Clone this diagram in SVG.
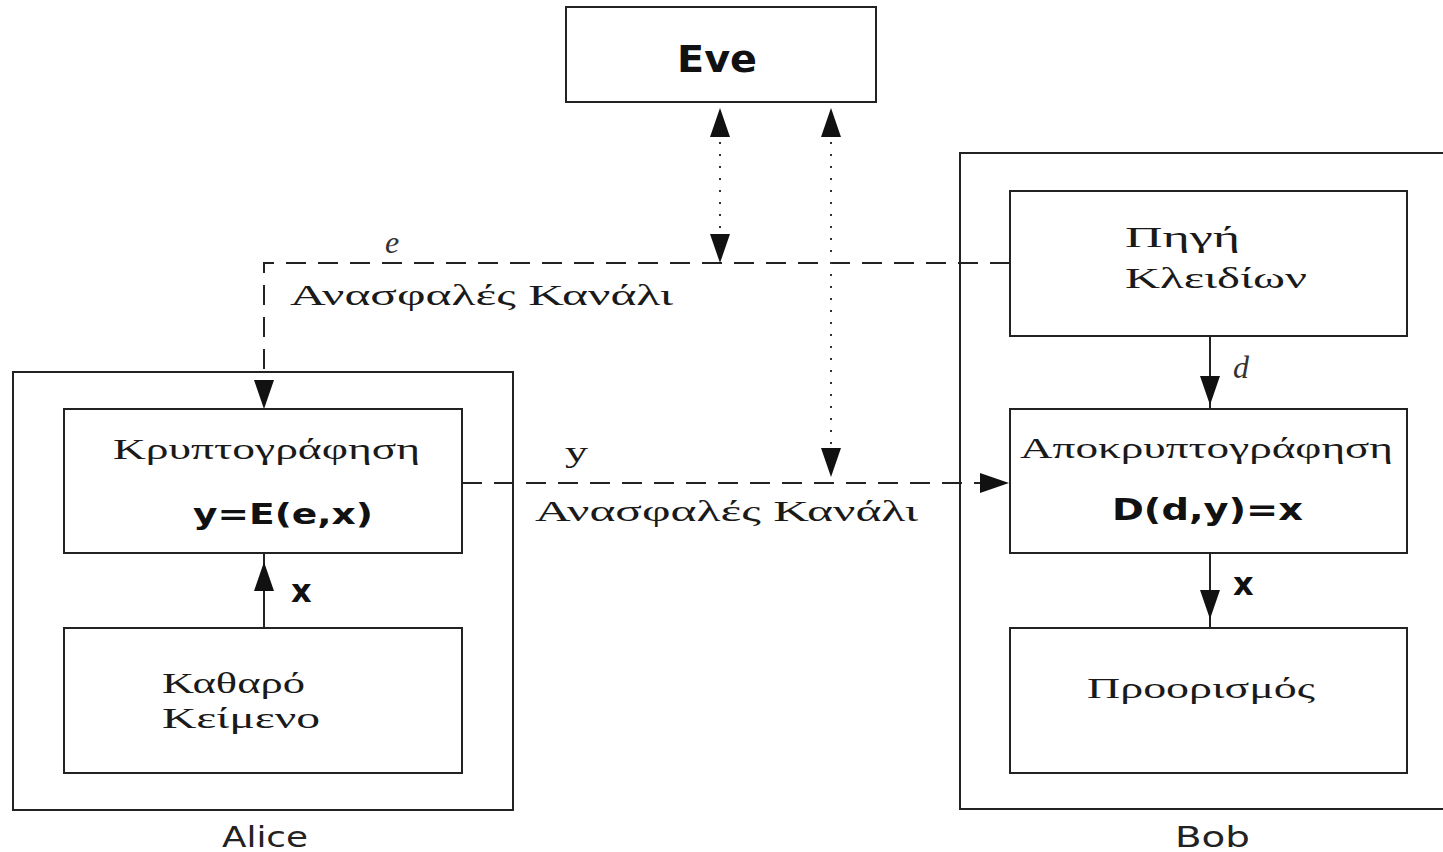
<svg xmlns="http://www.w3.org/2000/svg" xmlns:xlink="http://www.w3.org/1999/xlink" width="1443" height="852" viewBox="0 0 1443 852">
  <style>
    .box { fill: none; stroke: #222; stroke-width: 2; }
    .solid { fill: none; stroke: #222; stroke-width: 2; }
    .dash { fill: none; stroke: #222; stroke-width: 2; stroke-dasharray: 20 12; }
    .dot { fill: none; stroke: #333; stroke-width: 2; stroke-dasharray: 2 10; }
    .head { fill: #111; }
    .gr { font-family: "Liberation Serif", "DejaVu Serif", serif; font-size: 29px; fill: #1a1a1a; }
    .math { font-family: "Liberation Serif", "DejaVu Serif", serif; font-style: italic; font-size: 32px; fill: #333; }
    .bold { font-family: "DejaVu Sans", "Liberation Sans", sans-serif; font-weight: bold; fill: #111; }
    .name { font-family: "DejaVu Sans", "Liberation Sans", sans-serif; font-size: 29px; fill: #222; }
  </style>
  <defs>
    <!-- filled arrowhead, tip at the origin, pointing down -->
    <path id="ah" class="head" d="M0,0 L-10,-29 L10,-29 Z"/>
  </defs>

  <rect width="1443" height="852" fill="#fff"/>

  <!-- party frames -->
  <g id="alice">
    <rect class="box" x="13" y="372" width="500" height="438"/>
    <text class="name" x="222" y="847" textLength="86" lengthAdjust="spacingAndGlyphs">Alice</text>
  </g>
  <g id="bob">
    <path class="box" d="M1445,153 H960 V809 H1445"/>
    <text class="name" x="1175" y="847" textLength="75" lengthAdjust="spacingAndGlyphs">Bob</text>
  </g>

  <g id="eve">
    <rect class="box" x="566" y="7" width="310" height="95"/>
    <text class="bold" x="677" y="72" font-size="38" textLength="80" lengthAdjust="spacingAndGlyphs">Eve</text>
  </g>

  <g id="encrypt">
    <rect class="box" x="64" y="409" width="398" height="144"/>
    <text class="gr" x="113" y="459" textLength="307" lengthAdjust="spacingAndGlyphs">Κρυπτογράφηση</text>
    <text class="bold" x="193" y="524" font-size="28" textLength="180" lengthAdjust="spacingAndGlyphs">y=E(e,x)</text>
  </g>

  <g id="plaintext">
    <rect class="box" x="64" y="628" width="398" height="145"/>
    <text class="gr" x="162" y="693" textLength="143" lengthAdjust="spacingAndGlyphs">Καθαρό</text>
    <text class="gr" x="162" y="728" textLength="158" lengthAdjust="spacingAndGlyphs">Κείμενο</text>
  </g>

  <g id="keysource">
    <rect class="box" x="1010" y="191" width="397" height="145"/>
    <text class="gr" x="1125" y="247" textLength="115" lengthAdjust="spacingAndGlyphs">Πηγή</text>
    <text class="gr" x="1125" y="288" textLength="182" lengthAdjust="spacingAndGlyphs">Κλειδίων</text>
  </g>

  <g id="decrypt">
    <rect class="box" x="1010" y="409" width="397" height="144"/>
    <text class="gr" x="1020" y="458" textLength="373" lengthAdjust="spacingAndGlyphs">Αποκρυπτογράφηση</text>
    <text class="bold" x="1112" y="520" font-size="30" textLength="191" lengthAdjust="spacingAndGlyphs">D(d,y)=x</text>
  </g>

  <g id="destination">
    <rect class="box" x="1010" y="628" width="397" height="145"/>
    <text class="gr" x="1087" y="698" textLength="228" lengthAdjust="spacingAndGlyphs">Προορισμός</text>
  </g>

  <g id="connectors">
    <!-- key e over the insecure channel -->
    <path class="dash" d="M1010,263 H264 V400"/>
    <use xlink:href="#ah" transform="translate(264,409)"/>
    <text class="math" x="385" y="253">e</text>
    <text class="gr" x="290" y="305" textLength="383" lengthAdjust="spacingAndGlyphs">Ανασφαλές Κανάλι</text>

    <!-- ciphertext y over the insecure channel -->
    <path class="dash" d="M462,483 H1000"/>
    <use xlink:href="#ah" transform="translate(1009,483) rotate(-90)"/>
    <text class="gr" x="565" y="462" font-size="30" textLength="23" lengthAdjust="spacingAndGlyphs">y</text>
    <text class="gr" x="535" y="521" textLength="383" lengthAdjust="spacingAndGlyphs">Ανασφαλές Κανάλι</text>

    <!-- Eve listening on both channels -->
    <path class="dot" d="M720,130 V240"/>
    <use xlink:href="#ah" transform="translate(720,108) rotate(180)"/>
    <use xlink:href="#ah" transform="translate(720,263)"/>
    <path class="dot" d="M831,130 V455"/>
    <use xlink:href="#ah" transform="translate(831,108) rotate(180)"/>
    <use xlink:href="#ah" transform="translate(831,477)"/>

    <!-- d: key source to decryption -->
    <path class="solid" d="M1210,336 V409"/>
    <use xlink:href="#ah" transform="translate(1210,405)"/>
    <text class="math" x="1233" y="378">d</text>

    <!-- x: decryption to destination -->
    <path class="solid" d="M1210,553 V628"/>
    <use xlink:href="#ah" transform="translate(1210,619)"/>
    <text class="bold" x="1233" y="595" font-size="32">x</text>

    <!-- x: plaintext to encryption -->
    <path class="solid" d="M264,628 V553"/>
    <use xlink:href="#ah" transform="translate(264,562) rotate(180)"/>
    <text class="bold" x="291" y="602" font-size="32">x</text>
  </g>
</svg>
